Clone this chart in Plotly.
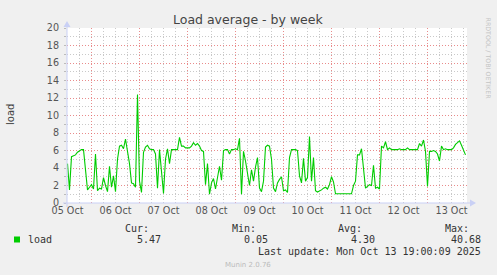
import plotly.graph_objects as go
import pandas as pd

# Hourly load average, 2025-10-05 12:00 .. 2025-10-13 19:00
load_values = [
    4.5, 1.5, 5.3, 5.4, 5.5, 5.8, 6.0, 6.1, 6.1, 4.0,
    1.5, 1.8, 2.1, 1.6, 5.6, 1.4, 1.7, 1.6, 2.9, 2.0,
    1.3, 4.2, 1.8, 3.1, 1.3, 5.0, 6.5, 6.6, 6.2, 7.3,
    6.0, 4.5, 2.3, 2.2, 1.8, 12.4, 2.5, 1.2, 5.8, 6.4,
    6.6, 6.2, 6.1, 6.1, 5.6, 1.7, 6.1, 3.5, 1.1, 5.0,
    6.2, 4.5, 6.1, 6.1, 6.1, 6.1, 7.5, 6.5, 6.5, 6.3,
    6.3, 6.3, 6.5, 6.9, 6.6, 6.8, 6.5, 6.0, 5.9, 2.1,
    4.5, 1.0, 2.3, 2.8, 1.6, 2.9, 4.2, 2.6, 6.0, 6.1,
    6.1, 5.6, 6.1, 6.1, 6.2, 6.1, 7.4, 1.0, 5.9, 4.8,
    3.3, 2.0, 3.8, 2.5, 4.1, 5.2, 1.7, 1.3, 2.5, 6.4,
    6.6, 6.5, 5.0, 1.7, 1.3, 2.3, 2.7, 3.0, 1.4, 1.5,
    1.2, 5.2, 6.1, 6.1, 6.1, 6.0, 3.1, 2.3, 5.1, 2.5,
    2.9, 7.6, 2.5, 5.2, 1.4, 1.25, 1.35, 1.5, 1.7, 1.8,
    1.6, 2.1, 3.0, 2.4, 1.05, 1.05, 1.05, 1.1, 1.1, 1.05,
    1.05, 1.05, 1.05, 2.0, 2.5, 5.5, 5.5, 6.2, 4.1, 1.7,
    1.9, 2.1, 2.0, 4.3, 1.7, 1.8, 1.6, 6.5, 6.3, 7.0,
    6.1, 6.3, 6.1, 6.1, 6.1, 6.1, 6.2, 6.1, 6.1, 6.1,
    6.3, 6.1, 6.1, 6.1, 6.1, 6.1, 6.8, 6.5, 7.2, 5.9,
    1.9, 5.9, 5.9, 6.0, 5.9, 5.6, 4.8, 6.5, 6.1, 6.2,
    6.1, 6.1, 6.1, 6.3, 6.7, 6.9, 7.1, 6.6, 6.1, 5.5,
]
series_start = "2025-10-05 12:00"
x_range = ["2025-10-05 11:45", "2025-10-13 19:45"]

title_text = "Load average - by week"
y_label = "load"
series_name = "load"
stat_labels = ["Cur:", "Min:", "Avg:", "Max:"]
stat_values = ["5.47", "0.05", "4.30", "40.68"]
last_update = "Last update: Mon Oct 13 19:00:09 2025"
footer = "Munin 2.0.76"
side_text = "RRDTOOL / TOBI OETIKER"

times = pd.date_range(series_start, periods=len(load_values), freq="h")

W, H = 497, 275
L, R, T, B = 67, 30, 28, 72
PW, PH = W - L - R, H - T - B


def X(px):
    return (px - L) / PW


def Y(py):
    return (H - B - py) / PH


AXIS = "#C9D0F5"
MAJ = "rgba(225,100,100,0.75)"
MIN = "rgba(165,165,165,0.6)"
GREEN = "#00CC00"

fig = go.Figure()
fig.add_trace(go.Scatter(x=times, y=load_values, mode="lines",
                         line=dict(color=GREEN, width=1.1), name=series_name,
                         showlegend=False))

fig.update_layout(
    width=W, height=H,
    margin=dict(l=L, r=R, t=T, b=B, pad=0),
    paper_bgcolor="#F0F0F0", plot_bgcolor="white",
    font=dict(family="DejaVu Sans", size=10, color="#555555"),
    showlegend=False,
)

fig.update_xaxes(
    type="date", range=x_range, fixedrange=True,
    tick0="2025-10-05 00:00", dtick=86400000, tickformat="%d %b",
    ticklabelmode="period", ticks="", showline=False,
    showgrid=True, gridcolor=MAJ, gridwidth=1, griddash="1px,2px",
    minor=dict(dtick=6 * 3600000, showgrid=True, gridcolor=MIN,
               griddash="1px,2px", gridwidth=1),
    tickfont=dict(size=9.6, color="#555555", family="DejaVu Sans"),
    zeroline=False,
)
fig.update_yaxes(
    range=[0, 20], dtick=2, tick0=0, fixedrange=True,
    showgrid=True, gridcolor=MAJ, gridwidth=1, griddash="1px,2px",
    minor=dict(dtick=1, showgrid=True, gridcolor=MIN, griddash="1px,2px",
               gridwidth=1, ticks="outside", ticklen=2, tickcolor="#BBBBBB"),
    ticks="outside", ticklen=2, tickcolor="#BBBBBB",
    tickfont=dict(size=9.6, color="#555555", family="DejaVu Sans"),
    zeroline=False, showline=False, ticklabelstandoff=3,
)

shapes = [
    # axes
    dict(type="line", xref="paper", yref="paper", x0=X(63), x1=X(471),
         y0=Y(203), y1=Y(203), line=dict(color=AXIS, width=1)),
    dict(type="line", xref="paper", yref="paper", x0=X(67), x1=X(67),
         y0=Y(207), y1=Y(24), line=dict(color=AXIS, width=1)),
    dict(type="path", xref="paper", yref="paper",
         path=f"M {X(470)} {Y(199.5)} L {X(476)} {Y(203)} L {X(470)} {Y(206.5)} Z",
         fillcolor=AXIS, line=dict(color=AXIS, width=0)),
    dict(type="path", xref="paper", yref="paper",
         path=f"M {X(63.5)} {Y(27)} L {X(67)} {Y(21)} L {X(70.5)} {Y(27)} Z",
         fillcolor=AXIS, line=dict(color=AXIS, width=0)),
    # legend swatch
    dict(type="rect", xref="paper", yref="paper", x0=X(14), x1=X(20),
         y0=Y(242.5), y1=Y(236.5), fillcolor=GREEN, line=dict(width=0)),
]
fig.update_layout(shapes=shapes)

mono = dict(family="DejaVu Sans Mono", size=10, color="#333333")
ann = []
ann.append(dict(text=title_text, xref="paper", yref="paper", x=X(248), y=Y(19.5),
                xanchor="center", yanchor="middle", showarrow=False,
                font=dict(family="DejaVu Sans", size=12.5, color="#444444")))
ann.append(dict(text=y_label, xref="paper", yref="paper", x=X(10), y=Y(115),
                xanchor="center", yanchor="middle", showarrow=False, textangle=-90,
                font=dict(family="DejaVu Sans", size=10, color="#444444")))
ann.append(dict(text=side_text, xref="paper", yref="paper", x=X(487.5), y=Y(58),
                xanchor="center", yanchor="middle", showarrow=False, textangle=90,
                font=dict(family="DejaVu Sans", size=6.3, color="#C4C4C4")))
label_right = [150, 257, 363, 470]
value_right = [162, 269, 376, 482]
for lab, vr in zip(stat_labels, label_right):
    ann.append(dict(text=lab, xref="paper", yref="paper", x=X(vr + 1), y=Y(228),
                    xanchor="right", yanchor="middle", showarrow=False, font=mono))
for val, vr in zip(stat_values, value_right):
    ann.append(dict(text=val, xref="paper", yref="paper", x=X(vr + 1), y=Y(239.5),
                    xanchor="right", yanchor="middle", showarrow=False, font=mono))
ann.append(dict(text=series_name, xref="paper", yref="paper", x=X(26), y=Y(239.5),
                xanchor="left", yanchor="middle", showarrow=False, font=mono))
ann.append(dict(text=last_update, xref="paper", yref="paper", x=X(483), y=Y(251.5),
                xanchor="right", yanchor="middle", showarrow=False, font=mono))
ann.append(dict(text=footer, xref="paper", yref="paper", x=X(248), y=Y(264.5),
                xanchor="center", yanchor="middle", showarrow=False,
                font=dict(family="DejaVu Sans", size=7, color="#BBBBBB")))
fig.update_layout(annotations=ann)

fig.write_html("out.html")
